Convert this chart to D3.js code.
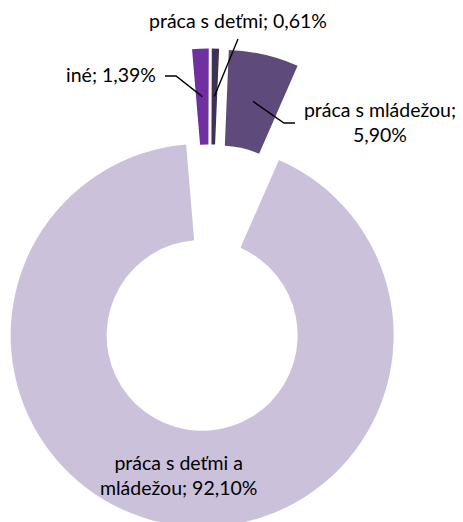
<!DOCTYPE html>
<html>
<head>
<meta charset="utf-8">
<script src="https://cdn.jsdelivr.net/npm/d3@7"></script>
<style>
  body { margin: 0; background: #fff; }
  svg text { font-family: Lato, "Noto Sans", sans-serif; font-size: 19.5px; fill: #000; }
</style>
</head>
<body>
<div id="chart"></div>
<script>
// data (share of respondents, %)
const categories = ["práca s mládežou", "práca s deťmi a mládežou", "iné", "práca s deťmi"];
const shares = [5.90, 92.10, 1.39, 0.61];
const colors = ["#5e4a7b", "#cbc1da", "#7030a0", "#3f3152"];

// label placement (leader end point, text anchor)
const labelLayout = [
  {elbow: [284, 123], end: [295, 123], text: [380, 117], anchor: "middle", wrap: 165},
  {elbow: null, end: null, text: null, anchor: "middle", wrap: 165},
  {elbow: [176, 76], end: [165, 76], text: [156, 82], anchor: "end", wrap: 400},
  {elbow: null, end: [238, 39], text: [238, 28], anchor: "middle", wrap: 400}
];

let width = 463, height = 522;
let cx = 210, cy = 288;
let outerR = 191.5, innerR = 95.5, explode = 48;

let svg = d3.select("#chart").append("svg")
  .attr("width", width)
  .attr("height", height);

let data = categories.map((c, i) => ({name: c, value: shares[i], color: colors[i], layout: labelLayout[i]}));

let pie = d3.pie()
  .sort(null)
  .value(d => d.value)
  .startAngle(2.4 * Math.PI / 180)
  .endAngle(2.4 * Math.PI / 180 + 2 * Math.PI);

let arc = d3.arc().innerRadius(innerR).outerRadius(outerR);

let arcs = pie(data);

// every slice pulled out along its middle angle
function offset(d) {
  let m = (d.startAngle + d.endAngle) / 2;
  return [explode * Math.sin(m), -explode * Math.cos(m)];
}

let g = svg.append("g").attr("transform", "translate(" + cx + "," + cy + ")");

g.selectAll("path.slice")
  .data(arcs)
  .enter()
  .append("path")
    .attr("class", "slice")
    .attr("d", arc)
    .attr("transform", d => "translate(" + offset(d) + ")")
    .style("fill", d => d.data.color);

function fmt(v) {
  return v.toFixed(2).replace(".", ",") + "%";
}

// leader lines
arcs.forEach(d => {
  let L = d.data.layout;
  if (!L.end) return;
  let o = offset(d);
  let c = arc.centroid(d);
  let p0 = [cx + o[0] + c[0], cy + o[1] + c[1]];
  let pts = [p0];
  if (L.elbow) pts.push(L.elbow);
  pts.push(L.end);
  svg.append("path")
    .attr("d", d3.line()(pts))
    .attr("fill", "none")
    .attr("stroke", "#000")
    .attr("stroke-width", 1.4);
});

// labels
arcs.forEach(d => {
  let L = d.data.layout;
  let label = d.data.name + "; " + fmt(d.data.value);
  let pos;
  if (L.text) {
    pos = L.text;
  } else {
    let o = offset(d);
    let c = arc.centroid(d);
    pos = [cx + o[0] + c[0], cy + o[1] + c[1]];
  }
  let t = svg.append("text")
    .attr("text-anchor", L.anchor);

  // simple greedy word wrap
  let words = label.split(" ");
  let lines = [];
  let cur = "";
  let probe = svg.append("text").attr("visibility", "hidden");
  words.forEach(w => {
    let trial = cur ? cur + " " + w : w;
    probe.text(trial);
    if (cur && probe.node().getComputedTextLength() > L.wrap) {
      lines.push(cur);
      cur = w;
    } else {
      cur = trial;
    }
  });
  lines.push(cur);
  probe.remove();

  let lineH = 25;
  let y0 = L.text ? pos[1] : pos[1] - (lines.length - 1) * lineH / 2 + 6;
  lines.forEach((ln, i) => {
    t.append("tspan")
      .attr("x", pos[0])
      .attr("y", y0 + i * lineH)
      .text(ln);
  });
});
</script>
</body>
</html>
